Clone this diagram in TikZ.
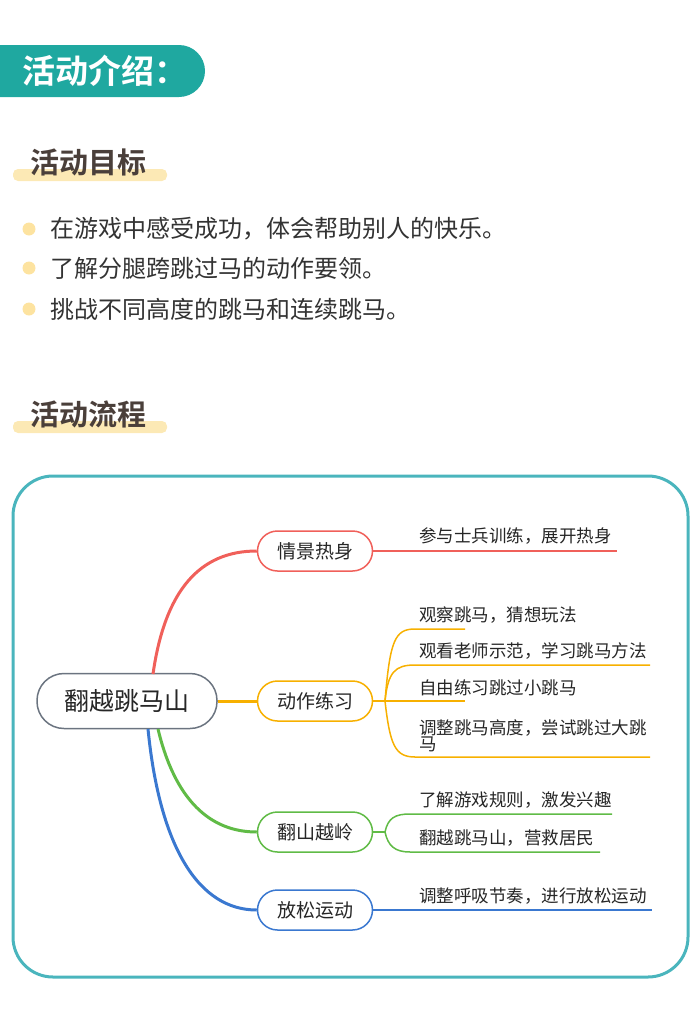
\documentclass[tikz,border=0pt]{standalone}
\usepackage{fontspec}
\setmainfont{Noto Sans CJK SC}
\newfontfamily\cjkb{Noto Sans CJK SC Bold}
\definecolor{teal1}{HTML}{1FA8A0}
\definecolor{frame1}{HTML}{4AB5BD}
\definecolor{hl}{HTML}{FCE9B5}
\definecolor{dot}{HTML}{FDE3A0}
\definecolor{ttl}{HTML}{4A3F3A}
\definecolor{cred}{HTML}{F0605A}
\definecolor{corg}{HTML}{F7B000}
\definecolor{cgrn}{HTML}{60BB46}
\definecolor{cblu}{HTML}{3A78D0}
\definecolor{cgry}{HTML}{6B7480}
\begin{document}
\begin{tikzpicture}[x=1pt,y=-1pt,
  sect/.style={font=\cjkb\fontsize{29}{32}\selectfont,text=ttl,anchor=west,inner sep=0},
  bul/.style={font=\fontsize{24}{28}\selectfont,text=black!80,anchor=west,inner sep=0},
  br/.style={draw,line width=1.5pt,rounded corners=20pt,minimum width=115pt,minimum height=40pt,font=\fontsize{19}{22}\selectfont,text=black!85},
  lf/.style={font=\fontsize{17.5}{20}\selectfont,text=black!85,anchor=south west,inner sep=1pt,align=left},
  conn/.style={line width=3pt}]
\useasboundingbox (0,0) rectangle (700,1020);
\fill[teal1] (0,45) -- (179,45) arc[start angle=90,end angle=-90,radius=26pt] -- (0,97) -- cycle;
\node[font=\cjkb\fontsize{33}{36}\selectfont,text=white,anchor=west,inner sep=0] (h) at (22,71) {活动介绍：};
\fill[hl,rounded corners=5pt] (13,169) rectangle (167,181);
\node[sect] (s1) at (30,162) {活动目标};
\foreach \y/\t [count=\i] in {229/在游戏中感受成功，体会帮助别人的快乐。,268/了解分腿跨跳过马的动作要领。,309/挑战不同高度的跳马和连续跳马。}{
  \fill[dot] (29,\y) circle[radius=6.5pt];
  \node[bul] (b\i) at (50,\y) {\t};
}
\fill[hl,rounded corners=5pt] (13,421) rectangle (167,433);
\node[sect] (s2) at (30,414) {活动流程};
\draw[frame1,line width=3pt,rounded corners=40pt] (13,476) rectangle (688,977);
\node[draw=cgry,line width=1.5pt,rounded corners=27pt,minimum width=180pt,minimum height=55pt,font=\fontsize{25}{28}\selectfont,text=black!85] (root) at (127,701) {翻越跳马山};
\node[br,draw=cred] (n1) at (315,551) {情景热身};
\node[br,draw=corg] (n2) at (315,701) {动作练习};
\node[br,draw=cgrn] (n3) at (315,832) {翻山越岭};
\node[br,draw=cblu] (n4) at (315,910) {放松运动};
\draw[conn,cred] (153,674) .. controls (165,590) and (200,551) .. (n1.west);
\draw[conn,corg] (root.east) -- (n2.west);
\draw[conn,cgrn] (158,729) .. controls (175,800) and (210,832) .. (n3.west);
\draw[conn,cblu] (148,729) .. controls (160,850) and (200,910) .. (n4.west);
\coordinate (r1) at (617,551);
\draw[cred,line width=1.5pt] (n1.east) -- (r1);
\node[lf] (t1) at (418,546) {参与士兵训练，展开热身};
\coordinate (o0) at (385,701);
\draw[corg,line width=1.5pt] (n2.east) -- (o0);
\draw[corg,line width=1.5pt] (o0) .. controls (390,640) and (395,629) .. (415,629) -- (465,629);
\draw[corg,line width=1.5pt] (o0) .. controls (388,672) and (395,665) .. (415,665) -- (650,665);
\draw[corg,line width=1.5pt] (o0) -- (465,701);
\draw[corg,line width=1.5pt] (o0) .. controls (390,745) and (395,757) .. (415,757) -- (650,757);
\node[lf] (t2) at (418,625) {观察跳马，猜想玩法};
\node[lf] (t3) at (418,661) {观看老师示范，学习跳马方法};
\node[lf] (t4) at (418,697) {自由练习跳过小跳马};
\node[lf,text width=235pt] (t5) at (418,753) {调整跳马高度，尝试跳过大跳\\[-4pt]马};
\coordinate (g0) at (385,832);
\draw[cgrn,line width=1.5pt] (n3.east) -- (g0);
\draw[cgrn,line width=1.5pt] (g0) .. controls (388,818) and (395,814) .. (410,814) -- (612,814);
\draw[cgrn,line width=1.5pt] (g0) .. controls (388,846) and (395,852) .. (410,852) -- (600,852);
\node[lf] (t6) at (418,810) {了解游戏规则，激发兴趣};
\node[lf] (t7) at (418,848) {翻越跳马山，营救居民};
\draw[cblu,line width=1.5pt] (n4.east) -- (652,910);
\node[lf] (t8) at (418,906) {调整呼吸节奏，进行放松运动};
\end{tikzpicture}
\end{document}
